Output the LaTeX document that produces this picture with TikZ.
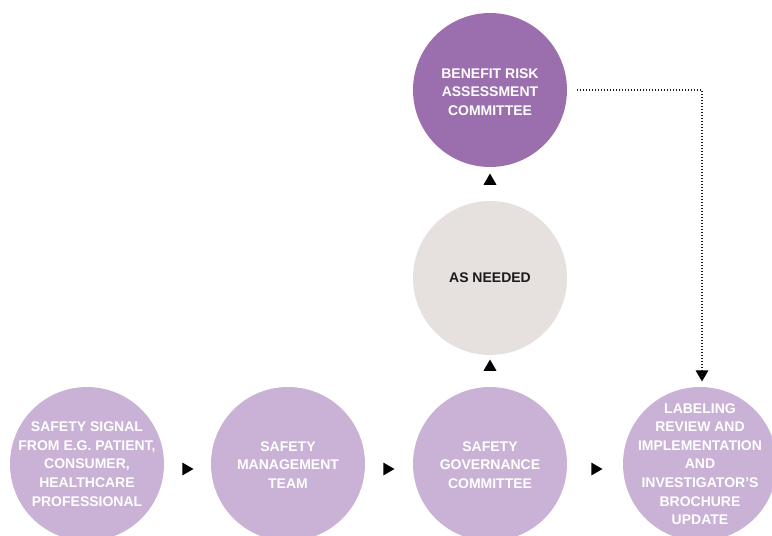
\documentclass[tikz,border=0pt]{standalone}
\usepackage{fontspec}
\setmainfont{Liberation Sans}
\usetikzlibrary{shapes.geometric,calc}
\definecolor{darkpurple}{HTML}{9B6FAE}
\definecolor{lightpurple}{HTML}{C9B2D6}
\definecolor{greyfill}{HTML}{E6E0DF}
\definecolor{nearblack}{HTML}{1E1A1B}
\tikzset{
  bubble/.style={circle, minimum size=154pt, inner sep=0pt, draw=none},
  txt/.style={align=center, font=\bfseries\fontsize{14}{18.6}\selectfont, inner sep=0pt},
  tri/.style={regular polygon, regular polygon sides=3, minimum size=15pt, inner sep=0pt, fill=black, draw=none},
  dotline/.style={line width=1.1pt, dash pattern=on 1.1pt off 1.9pt, nearblack}
}
\begin{document}
\begin{tikzpicture}[x=1pt,y=-1pt]
\useasboundingbox (0,0) rectangle (772,536);
\clip (0,0) rectangle (772,536);
% circles
\node[bubble, fill=darkpurple] (bra) at (490,90) {};
\node[bubble, fill=greyfill] (need) at (490,278) {};
\node[bubble, fill=lightpurple] (sig) at (87,464) {};
\node[bubble, fill=lightpurple] (smt) at (288,464) {};
\node[bubble, fill=lightpurple] (sgc) at (490,464) {};
\node[bubble, fill=lightpurple] (lab) at (700,464) {};
% texts
\node[txt, white] (tbra) at (490,92) {BENEFIT RISK\\ASSESSMENT\\COMMITTEE};
\node[txt, nearblack] (tneed) at (490,278) {AS NEEDED};
\node[txt, white] (tsig) at (87,464) {SAFETY SIGNAL\\FROM E.G. PATIENT,\\CONSUMER,\\HEALTHCARE\\PROFESSIONAL};
\node[txt, white] (tsmt) at (288,465) {SAFETY\\MANAGEMENT\\TEAM};
\node[txt, white] (tsgc) at (490,465) {SAFETY\\GOVERNANCE\\COMMITTEE};
\node[txt, white] (tlab) at (700,464) {LABELING\\REVIEW AND\\IMPLEMENTATION\\AND\\INVESTIGATOR’S\\BROCHURE\\UPDATE};
% arrow markers
\node[tri, rotate=-90] (a1) at (186,469) {};
\node[tri, rotate=-90] (a2) at (387,469) {};
\node[tri, rotate=-90] (a3) at (595,469) {};
\node[tri] (a4) at (490,367) {};
\node[tri] (a5) at (490,181) {};
\node[tri, rotate=180] (a6) at (702,374) {};
% dotted connector
\draw[dotline] ([xshift=10pt]bra.east) -| (a6.north);
\end{tikzpicture}
\end{document}
